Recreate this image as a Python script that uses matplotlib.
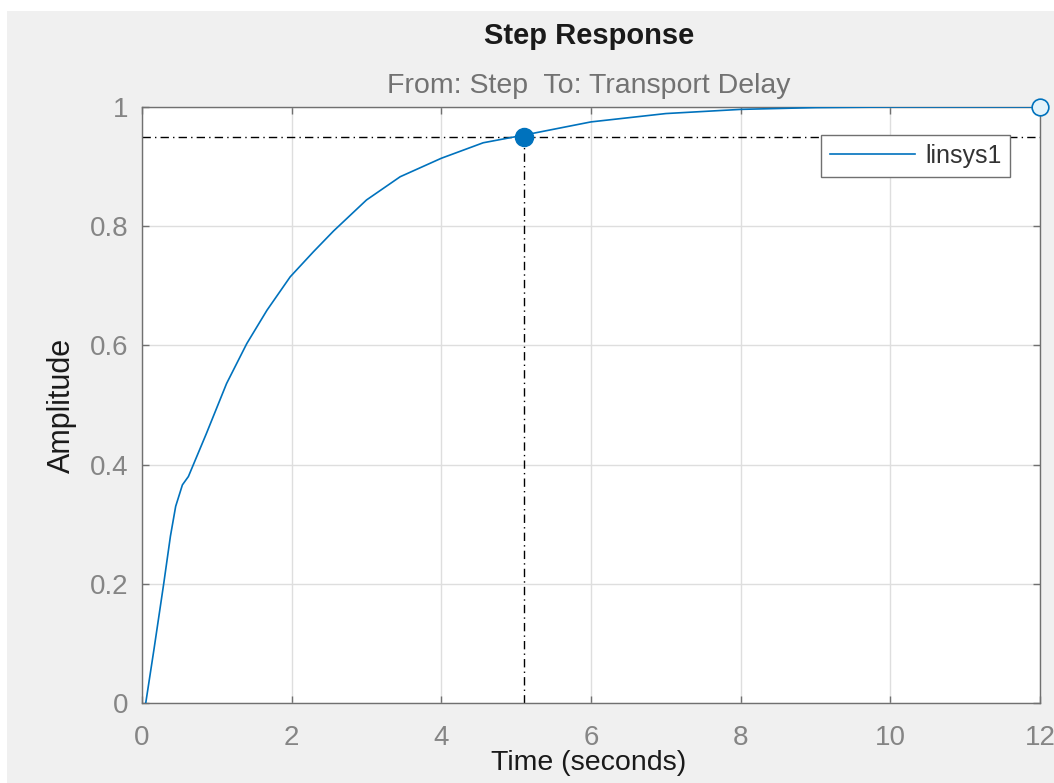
import matplotlib
matplotlib.use("Agg")
import matplotlib.pyplot as plt
from matplotlib.patches import Rectangle

# ---- data ----
time_s = [0.05, 0.16, 0.29, 0.38, 0.45, 0.54, 0.62, 0.86, 1.13, 1.40, 1.67,
          1.98, 2.29, 2.56, 3.0, 3.45, 4.0, 4.56, 5.11, 6.0, 7.0, 8.0, 9.0,
          10.0, 12.0]
amplitude = [0.0, 0.09, 0.20, 0.28, 0.33, 0.366, 0.38, 0.452, 0.536, 0.603,
             0.659, 0.715, 0.757, 0.792, 0.844, 0.883, 0.914, 0.94, 0.953,
             0.975, 0.989, 0.996, 0.999, 1.0, 1.0]
settle_time = 5.11
settle_level = 0.95
final_time = 12.0
final_value = 1.0
x_ticks = [0, 2, 4, 6, 8, 10, 12]
y_ticks = [0, 0.2, 0.4, 0.6, 0.8, 1]
y_tick_labels = ["0", "0.2", "0.4", "0.6", "0.8", "1"]
series_name = "linsys1"

plt.rcParams["font.family"] = ["Liberation Sans", "DejaVu Sans"]

W, H = 1054, 783
fig = plt.figure(figsize=(W / 100, H / 100), dpi=100, facecolor="white")
fig.patches.append(Rectangle((7 / W, 0), 1, 1 - 11 / H, transform=fig.transFigure,
                             facecolor="#f0f0f0", edgecolor="none", zorder=-10))

ax = fig.add_axes([142 / W, 1 - 703 / H, 898 / W, 596 / H])
ax.set_facecolor("white")

blue = "#0072bd"
ax.plot(time_s, amplitude, color=blue, lw=1.2, label=series_name, zorder=3)

# settling characteristic lines
ax.axhline(settle_level, color="black", lw=1.0, dashes=(6, 3, 1, 3), zorder=2)
ax.plot([settle_time, settle_time], [0, settle_level], color="black", lw=1.0,
        dashes=(6, 3, 1, 3), zorder=2)
ax.plot([settle_time], [settle_level], "o", color=blue, markersize=13, zorder=4,
        clip_on=False)
ax.plot([final_time], [final_value], "o", markerfacecolor="#e4f3fb",
        markeredgecolor=blue, markeredgewidth=1.2, markersize=12, zorder=4,
        clip_on=False)

ax.set_xlim(0, 12)
ax.set_ylim(0, 1)
ax.set_xticks(x_ticks)
ax.set_yticks(y_ticks)
ax.set_yticklabels(y_tick_labels)
ax.grid(True, color="#dedede", lw=1)
ax.set_axisbelow(True)
for s in ax.spines.values():
    s.set_color("#707070")
    s.set_linewidth(1.0)
ax.tick_params(direction="in", length=5, width=1, color="#707070",
               top=True, right=True, labelsize=20, labelcolor="#858585")
ax.tick_params(axis="x", pad=16)
ax.tick_params(axis="y", pad=10)

ax.set_xlabel("Time (seconds)", fontsize=20.5, color="#1a1a1a")
ax.xaxis.set_label_coords(0.497, -0.079)
ax.set_ylabel("Amplitude", fontsize=22, color="#1a1a1a")
ax.yaxis.set_label_coords(-0.073, 0.5)

fig.text(589 / W, 1 - 44 / H, "Step Response", ha="center", va="baseline",
         fontsize=21, fontweight="bold", color="#1a1a1a")
fig.text(589 / W, 1 - 93 / H, "From: Step  To: Transport Delay", ha="center",
         va="baseline", fontsize=20.5, color="#727272")

leg = ax.legend(loc="upper right", bbox_to_anchor=(0.967, 0.953),
                borderaxespad=0, fontsize=18, handlelength=3.4,
                handletextpad=0.4, borderpad=0.35, fancybox=False,
                framealpha=1, edgecolor="#707070")
leg.get_frame().set_linewidth(1.0)
for t in leg.get_texts():
    t.set_color("#333333")

fig.savefig("out.png", dpi=100, facecolor=fig.get_facecolor())
